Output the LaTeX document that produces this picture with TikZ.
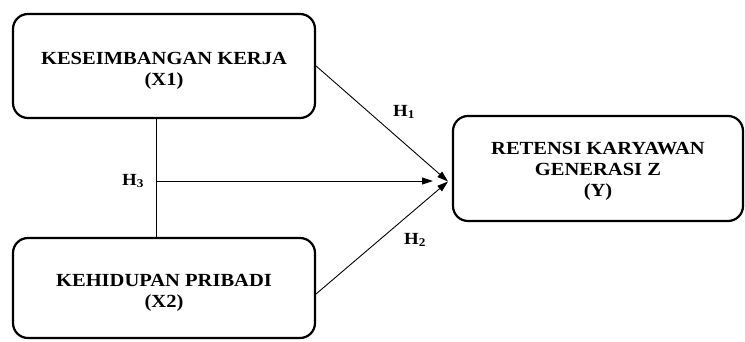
\documentclass[tikz,border=0pt]{standalone}
\usepackage{fontspec}
\setmainfont{Liberation Serif}[FakeStretch=1.11]
\usetikzlibrary{arrows.meta,calc}
\newcommand{\toppad}[1]{\rule{0pt}{#1}}
\begin{document}
\begin{tikzpicture}[x=1pt,y=-1pt,
  varbox/.style={draw=black,line width=2.2pt,rounded corners=15pt,inner sep=0pt,
    align=center,font=\fontsize{18.5}{21}\selectfont\bfseries},
  conn/.style={draw=black,line width=0.9pt},
  arr/.style={conn,-{Triangle[length=11pt,width=7pt]}},
  hlab/.style={font=\fontsize{17}{19}\selectfont\bfseries,inner sep=0pt}]
\useasboundingbox (0,0) rectangle (745,341);
\node[varbox,minimum width=302pt,minimum height=104pt] (x1) at (164,66)
  {\toppad{22pt}KESEIMBANGAN KERJA\\(X1)};
\node[varbox,minimum width=302pt,minimum height=100pt] (x2) at (164,288)
  {\toppad{22pt}KEHIDUPAN PRIBADI\\(X2)};
\node[varbox,minimum width=290pt,minimum height=105pt] (y) at (598,168.5)
  {\toppad{18pt}RETENSI KARYAWAN\\GENERASI Z\\(Y)};
\coordinate (m) at (156,181);
\coordinate (t3) at (433,181);
\coordinate (t) at (448,181.5);
\coordinate (e2) at (316,294);
\draw[conn] (x1.south -| m) -- (x2.north -| m);
\draw[arr] (m) -- (t3);
\draw[arr] (x1.east) -- (t);
\draw[arr] (e2) -- (t);
\node[hlab] (h1) at (404,112) {H\textsubscript{1}};
\node[hlab] (h2) at (415,240) {H\textsubscript{2}};
\node[hlab] (h3) at (133,181) {H\textsubscript{3}};
\end{tikzpicture}
\end{document}
